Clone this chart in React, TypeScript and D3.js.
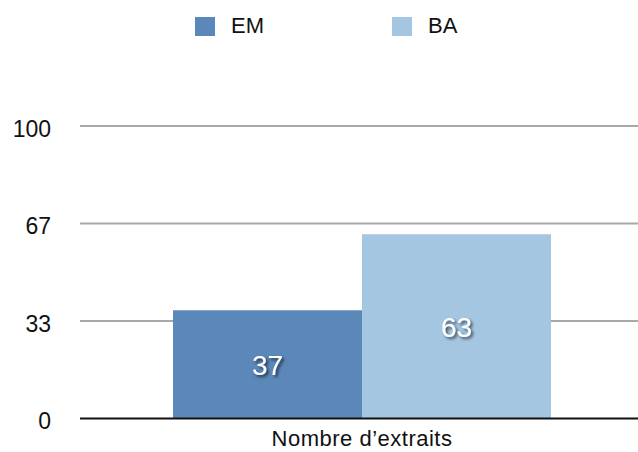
import React, { useEffect, useRef } from 'react';
import * as d3 from 'd3';

const categories = ['Nombre d\u2019extraits'];
const seriesNames = ['EM', 'BA'];
const seriesValues = [37, 63];
const seriesColors = ['#5b87b9', '#a5c6e1'];
const tickValues = [0, 100 / 3, 200 / 3, 100];

export default function App() {
  const svgRef = useRef<SVGSVGElement>(null);

  useEffect(() => {
    if (!svgRef.current) return;
    const svg = d3.select(svgRef.current);
    svg.selectAll('*').remove();

    const W = 638;
    const font = '"Liberation Sans", Arial, Helvetica, sans-serif';

    const defs = svg.append('defs');
    defs.append('filter')
      .attr('id', 'lblShadow')
      .attr('x', '-30%').attr('y', '-30%')
      .attr('width', '160%').attr('height', '160%')
      .append('feDropShadow')
      .attr('dx', 2).attr('dy', 2)
      .attr('stdDeviation', 1.6)
      .attr('flood-color', '#000')
      .attr('flood-opacity', 0.65);

    const y = d3.scaleLinear().domain([0, 100]).range([418.5, 126]);
    const x1 = d3.scaleBand().domain(seriesNames).range([173, 551]);
    const color = d3.scaleOrdinal<string, string>().domain(seriesNames).range(seriesColors);

    const g = svg.append('g');

    // gridlines
    g.selectAll('line.grid')
      .data(tickValues.filter(t => t > 0))
      .enter()
      .append('line')
      .attr('x1', 80).attr('x2', W)
      .attr('y1', d => y(d)).attr('y2', d => y(d))
      .attr('stroke', '#a8a8a8')
      .attr('stroke-width', 2);

    // y tick labels
    g.selectAll('text.tick')
      .data(tickValues)
      .enter()
      .append('text')
      .attr('x', 51)
      .attr('y', d => y(d))
      .attr('dy', '0.47em')
      .attr('text-anchor', 'end')
      .style('font-family', font)
      .style('font-size', '23px')
      .style('fill', '#111')
      .text(d => d3.format('.0f')(d));

    // bars
    g.selectAll('rect.bar')
      .data(seriesValues)
      .enter()
      .append('rect')
      .attr('x', (d, i) => x1(seriesNames[i]) || 0)
      .attr('y', d => y(d))
      .attr('width', x1.bandwidth())
      .attr('height', d => y(0) - y(d))
      .attr('fill', (d, i) => color(seriesNames[i]));

    // baseline
    g.append('line')
      .attr('x1', 80).attr('x2', W)
      .attr('y1', y(0)).attr('y2', y(0))
      .attr('stroke', '#111')
      .attr('stroke-width', 2);

    // value labels
    g.selectAll('text.val')
      .data(seriesValues)
      .enter()
      .append('text')
      .attr('x', (d, i) => (x1(seriesNames[i]) || 0) + x1.bandwidth() / 2)
      .attr('y', d => (y(d) + y(0)) / 2)
      .attr('dy', '0.37em')
      .attr('text-anchor', 'middle')
      .attr('filter', 'url(#lblShadow)')
      .style('font-family', font)
      .style('font-size', '28px')
      .style('fill', '#fff')
      .text(d => d);

    // category label
    g.selectAll('text.cat')
      .data(categories)
      .enter()
      .append('text')
      .attr('x', d => (x1(seriesNames[0]) || 0) + x1.bandwidth())
      .attr('y', 446)
      .attr('text-anchor', 'middle')
      .style('font-family', font)
      .style('font-size', '22px')
      .style('letter-spacing', '0.5px')
      .style('fill', '#111')
      .text(d => d);

    // legend
    const legendX = [195, 392];
    const leg = svg.append('g');
    seriesNames.forEach((name, i) => {
      leg.append('rect')
        .attr('x', legendX[i]).attr('y', 17)
        .attr('width', 20).attr('height', 19)
        .attr('fill', color(name));
      leg.append('text')
        .attr('x', legendX[i] + 36).attr('y', 33)
        .style('font-family', font)
        .style('font-size', '22px')
        .style('fill', '#111')
        .text(name);
    });
  }, []);

  return (
    <svg
      ref={svgRef}
      width={638}
      height={452}
      viewBox="0 0 638 452"
      style={{ position: 'absolute', left: 0, top: 0, background: '#fff' }}
    />
  );
}
